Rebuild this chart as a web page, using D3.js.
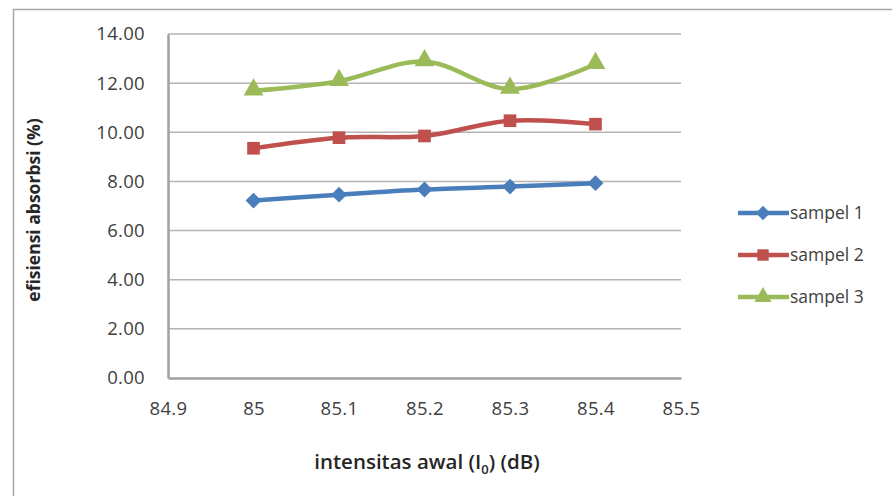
<!DOCTYPE html>
<html>
<head>
<meta charset="utf-8">
<script src="https://cdn.jsdelivr.net/npm/d3@7"></script>
<style>
  html, body { margin: 0; padding: 0; background: #fff; }
  svg { display: block; }
  text { font-family: "Open Sans", "Noto Sans", sans-serif; }
</style>
</head>
<body>
<svg id="chart" width="892" height="496"></svg>
<script>
// Initial intensity (dB) on the x axis
const intensities = [85, 85.1, 85.2, 85.3, 85.4];
// Absorption efficiency (%) per sample
const sampel1 = [7.22, 7.46, 7.67, 7.79, 7.93];
const sampel2 = [9.35, 9.78, 9.85, 10.47, 10.33];
const sampel3 = [11.69, 12.08, 12.88, 11.76, 12.77];
const seriesNames = ["sampel 1", "sampel 2", "sampel 3"];
const xTicks = [84.9, 85, 85.1, 85.2, 85.3, 85.4, 85.5];
const yTicks = [0, 2, 4, 6, 8, 10, 12, 14];

const colors = ["#4a7ebb", "#c0504d", "#9bbb59"];
const symbols = [d3.symbolDiamond2, d3.symbolSquare, d3.symbolTriangle];

const svg = d3.select("#chart");

// outer chart frame
svg.append("rect")
  .attr("x", 13.5).attr("y", 9.5)
  .attr("width", 900).attr("height", 500)
  .attr("fill", "#fff").attr("stroke", "#a6a6a6").attr("stroke-width", 1.5);

const plot = { left: 168, right: 681, top: 34, bottom: 378 };

const x = d3.scaleLinear().domain([84.9, 85.5]).range([plot.left, plot.right]);
const y = d3.scaleLinear().domain([0, 14]).range([plot.bottom, plot.top]);

// horizontal gridlines
svg.append("g")
  .selectAll("line")
  .data(yTicks.filter(t => t > 0))
  .join("line")
  .attr("x1", plot.left).attr("x2", plot.right)
  .attr("y1", d => y(d)).attr("y2", d => y(d))
  .attr("stroke", "#b4b4b4").attr("stroke-width", 1.5);

// y axis
const yAxis = svg.append("g")
  .attr("transform", `translate(${plot.left},0)`)
  .call(d3.axisLeft(y).tickValues(yTicks).tickFormat(d3.format(".2f")).tickSize(0).tickPadding(23));
yAxis.select(".domain").attr("stroke", "#a0a0a0").attr("stroke-width", 2.5);
yAxis.selectAll("text").attr("font-size", 18.5).attr("fill", "#404040").attr("letter-spacing", 0.3);

// x axis
const xAxis = svg.append("g")
  .attr("transform", `translate(0,${plot.bottom})`)
  .call(d3.axisBottom(x).tickValues(xTicks).tickFormat(d => String(+d.toFixed(1))).tickSize(0).tickPadding(24));
xAxis.select(".domain").attr("stroke", "#a0a0a0").attr("stroke-width", 2.5);
xAxis.selectAll("text").attr("font-size", 18.5).attr("fill", "#404040").attr("letter-spacing", 0.3);

// axis titles
svg.append("text")
  .attr("transform", `translate(40,${210}) rotate(-90)`)
  .attr("text-anchor", "middle")
  .attr("font-size", 17.5).attr("font-weight", "bold").attr("fill", "#262626")
  .text("efisiensi absorbsi (%)");

const xt = svg.append("text")
  .attr("x", 427).attr("y", 469)
  .attr("text-anchor", "middle")
  .attr("font-size", 20.5).attr("font-weight", 600).attr("fill", "#262626");
xt.append("tspan").text("intensitas awal (I");
xt.append("tspan").attr("font-size", 13).attr("dy", 5).text("0");
xt.append("tspan").attr("dy", -5).text(") (dB)");

// series
const allSeries = [sampel1, sampel2, sampel3];
const line = d3.line()
  .x((d, i) => x(intensities[i]))
  .y(d => y(d))
  .curve(d3.curveCatmullRom.alpha(0.5));

allSeries.forEach((vals, s) => {
  svg.append("path")
    .datum(vals)
    .attr("d", line)
    .attr("fill", "none")
    .attr("stroke", colors[s])
    .attr("stroke-width", 4.5)
    .attr("stroke-linejoin", "round");
  const sym = d3.symbol().type(symbols[s]).size(s === 2 ? 170 : 160);
  svg.append("g")
    .selectAll("path")
    .data(vals)
    .join("path")
    .attr("transform", (d, i) => `translate(${x(intensities[i])},${y(d) + (s === 2 ? -1 : 0)})`)
    .attr("d", sym)
    .attr("fill", colors[s]);
});

// legend
const legend = svg.append("g");
seriesNames.forEach((name, s) => {
  const ly = 213 + s * 42;
  legend.append("line")
    .attr("x1", 738).attr("x2", 789)
    .attr("y1", ly).attr("y2", ly)
    .attr("stroke", colors[s]).attr("stroke-width", 4.5);
  legend.append("path")
    .attr("transform", `translate(763,${ly})`)
    .attr("d", d3.symbol().type(symbols[s]).size(130))
    .attr("fill", colors[s]);
  legend.append("text")
    .attr("x", 790).attr("y", ly + 6)
    .attr("font-size", 17.5).attr("fill", "#404040")
    .text(name);
});
</script>
</body>
</html>
